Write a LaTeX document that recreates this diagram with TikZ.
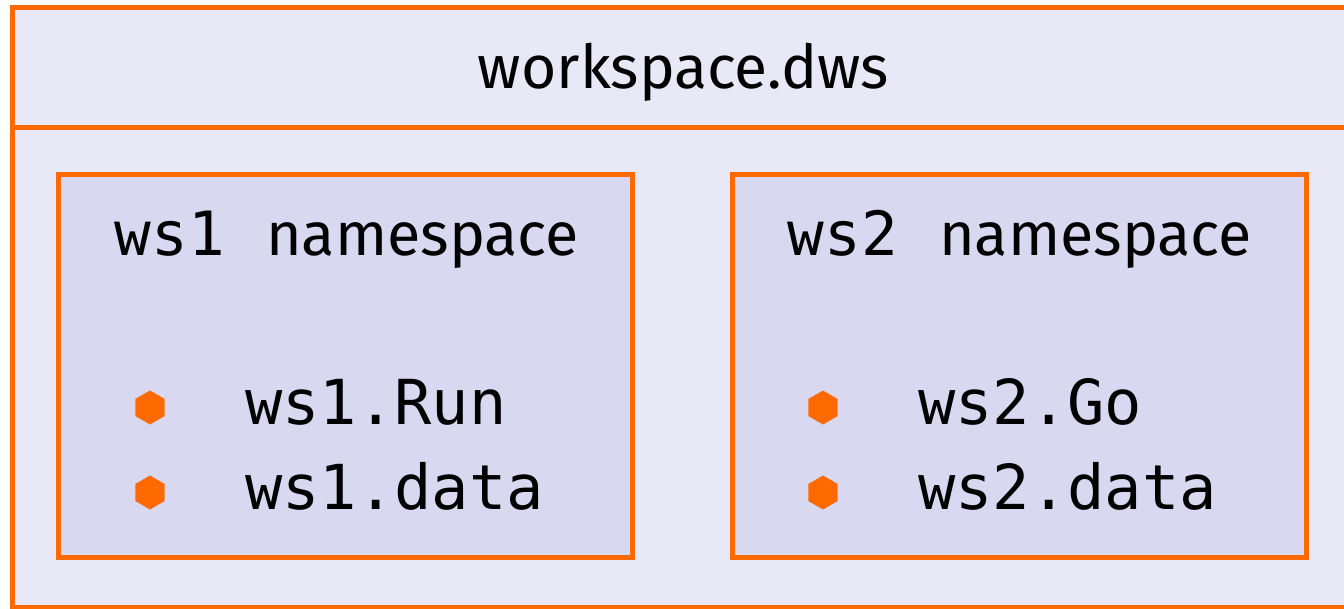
\documentclass[tikz,border=0pt]{standalone}
\usepackage{fontspec}
\setmainfont{Fira Sans}
\setmonofont{DejaVu Sans Mono}
\usetikzlibrary{shapes.geometric}

\definecolor{wsorange}{RGB}{255,106,0}
\definecolor{wsouter}{RGB}{232,232,246}
\definecolor{wsinner}{RGB}{216,216,240}

\tikzset{
    nsbox/.style={draw=wsorange,line width=5pt,fill=wsinner,minimum width=574pt,minimum height=383pt,inner sep=0pt},
    hexbullet/.style={regular polygon,regular polygon sides=6,shape border rotate=30,fill=wsorange,minimum size=34pt,inner sep=0pt},
    member/.style={anchor=base west,inner sep=0pt,font=\fontsize{62}{70}\ttfamily},
    nstitle/.style={anchor=base,inner sep=0pt,font=\fontsize{61}{70}\selectfont}
}

\begin{document}
\begin{tikzpicture}[x=1pt,y=-1pt]
                \useasboundingbox (0,0) rectangle (1344,608);
                \clip (0,0) rectangle (1344,608);

                \draw[draw=wsorange,line width=5pt,fill=wsouter] (12.5,7.5) rectangle (1370,607.5);
                \coordinate (headl) at (12.5,127.5);
                \coordinate (headr) at (1370,127.5);
                \draw[wsorange,line width=5pt] (headl) -- (headr);

                \node[nstitle,font=\fontsize{60.5}{70}\selectfont] (head) at (683.5,88) {workspace.dws};

                \node[nsbox] (ns1) at (345.5,366) {};
                \node[nsbox] (ns2) at (1019.5,366) {};

                \node[nstitle] (title1) at (347,255) {\texttt{ws1}\hspace{41pt}namespace};
                \node[nstitle] (title2) at (1020,255) {\texttt{ws2}\hspace{41pt}namespace};

                \node[hexbullet] (dot11) at (150,407.5) {};
                \node[hexbullet] (dot12) at (150,492.5) {};
                \node[hexbullet] (dot21) at (823,407.5) {};
                \node[hexbullet] (dot22) at (823,492.5) {};

                \node[member] (run) at (245,424) {ws1.Run};
                \node[member] (data1) at (245,509) {ws1.data};
                \node[member] (go) at (918,424) {ws2.Go};
                \node[member] (data2) at (918,509) {ws2.data};
            \end{tikzpicture}
\end{document}
